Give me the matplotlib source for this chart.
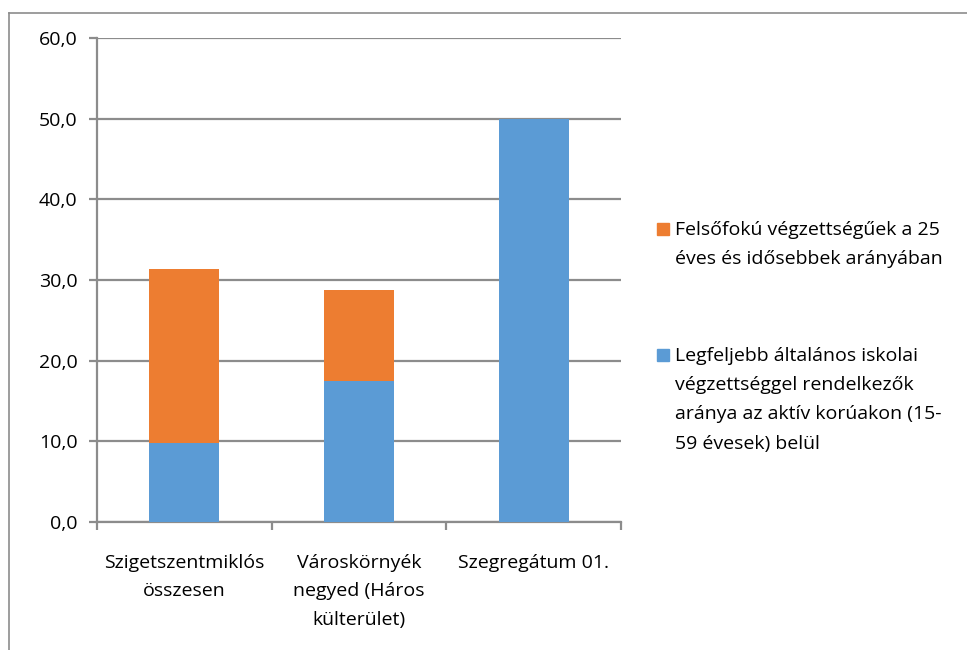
import matplotlib
matplotlib.use('Agg')
import matplotlib.pyplot as plt
from matplotlib.patches import Rectangle

plt.rcParams['font.family'] = ['Open Sans', 'DejaVu Sans']

# data
categories = ['Szigetszentmiklós\nösszesen', 'Városkörnyék\nnegyed (Háros\nkülterület)', 'Szegregátum 01.']
blue_vals = [9.8, 17.5, 50.0]
orange_vals = [21.6, 11.3, 0.0]
series_names = ['Legfeljebb általános iskolai\nvégzettséggel rendelkezők\naránya az aktív korúakon (15-\n59 évesek) belül',
                'Felsőfokú végzettségűek a 25\néves és idősebbek arányában']
y_ticks = [0, 10, 20, 30, 40, 50, 60]

blue = '#5B9BD5'
orange = '#ED7D31'
grid_c = '#8c8c8c'
W, H = 967, 650
fs = 14

fig = plt.figure(figsize=(W / 100, H / 100), dpi=100)
fig.set_facecolor('white')

# outer chart border (top and left visible)
fig.add_artist(plt.Line2D([9 / W, 1.0], [1 - 13 / H, 1 - 13 / H], color=grid_c, lw=1.2))
fig.add_artist(plt.Line2D([9 / W, 9 / W], [0, 1 - 13 / H], color=grid_c, lw=1.2))

ax = fig.add_axes([97 / W, (H - 522) / H, 524 / W, 484 / H])
x = list(range(len(categories)))
ax.bar(x, blue_vals, width=0.4, color=blue, zorder=3)
ax.bar(x, orange_vals, width=0.4, bottom=blue_vals, color=orange, zorder=3)

ax.set_xlim(-0.5, len(categories) - 0.5)
ax.set_ylim(0, 60)
ax.set_yticks(y_ticks)
ax.set_yticklabels([f'{v:.1f}'.replace('.', ',') for v in y_ticks], fontsize=fs)
ax.yaxis.grid(True, color=grid_c, lw=1.6, zorder=0)
ax.set_axisbelow(True)

# category boundary ticks on x axis, labels centred in categories
ax.set_xticks([i - 0.5 for i in range(len(categories) + 1)])
ax.set_xticklabels([])
ax.set_xticks(x, minor=True)
ax.set_xticklabels(categories, minor=True, fontsize=fs, linespacing=1.75, va='top')
ax.tick_params(axis='x', which='minor', length=0, pad=23)
ax.tick_params(axis='x', which='major', length=6, width=1.6, color=grid_c)
ax.tick_params(axis='y', length=6, width=1.6, color=grid_c, pad=8)

for s in ['top', 'right']:
    ax.spines[s].set_visible(False)
for s in ['left', 'bottom']:
    ax.spines[s].set_color(grid_c)
    ax.spines[s].set_linewidth(1.6)

# legend drawn by hand to match the wide line spacing
legend_items = [(series_names[1], orange, 229), (series_names[0], blue, 355)]
for name, col, ytop in legend_items:
    fig.add_artist(Rectangle((657 / W, 1 - (ytop + 6) / H), 12 / W, 12 / H,
                             transform=fig.transFigure, color=col))
    fig.text(675 / W, 1 - (ytop - 8) / H, name, fontsize=fs, va='top', ha='left',
             linespacing=1.8)

plt.savefig('out.png', dpi=100)
